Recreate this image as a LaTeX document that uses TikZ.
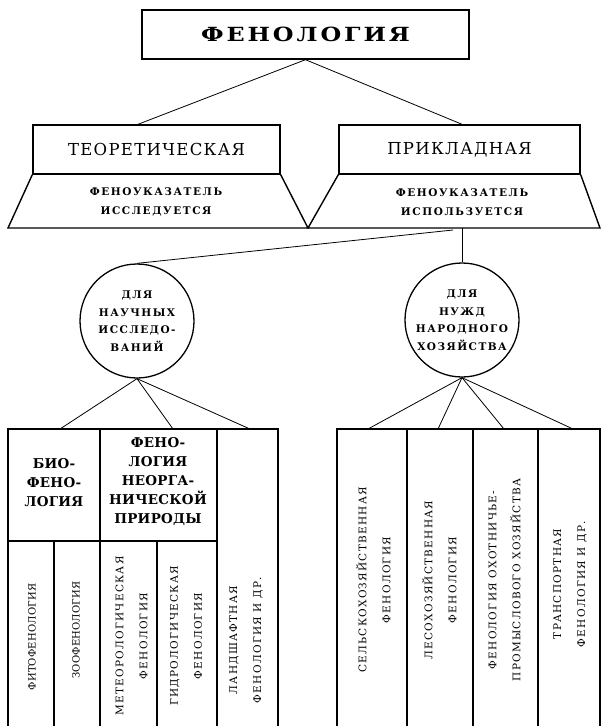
\documentclass[tikz,border=0pt]{standalone}
\usepackage{fontspec}
\setmainfont{DejaVu Serif}
\begin{document}
\begin{tikzpicture}[x=1pt,y=-1pt,
  box/.style={draw, line width=1.4pt, inner sep=0pt, minimum height=49pt},
  conn/.style={line width=0.8pt},
  frame/.style={line width=1.4pt},
  tbl/.style={line width=1.6pt},
  titletext/.style={font=\bfseries\fontsize{19.5}{19.5}\selectfont\addfontfeature{FakeStretch=1.22,LetterSpace=15}},
  midtext/.style={font=\fontsize{16.5}{16.5}\selectfont\addfontfeature{LetterSpace=8}},
  smalltext/.style={align=center, inner sep=0pt, font=\bfseries\fontsize{10.5}{19}\selectfont\addfontfeature{LetterSpace=15}},
  circ/.style={draw, circle, line width=1.3pt, minimum size=114pt, inner sep=0pt, align=center,
    font=\bfseries\fontsize{10.5}{17.5}\selectfont\addfontfeature{LetterSpace=14}},
  headtext/.style={align=center, inner sep=0pt, font=\bfseries\fontsize{13.5}{19}\selectfont\addfontfeature{LetterSpace=2}},
  vtext/.style={rotate=90, align=center, inner sep=0pt, font=\fontsize{10.5}{24}\selectfont\addfontfeature{LetterSpace=12}},
  vtextn/.style={rotate=90, align=center, inner sep=0pt, font=\fontsize{10}{24}\selectfont\addfontfeature{LetterSpace=2}}
]
\useasboundingbox (0,0) rectangle (601,726);

% top level
\node[box, minimum width=327pt, titletext] (top) at (305.5,34.5) {ФЕНОЛОГИЯ};
\node[box, minimum width=247pt, midtext] (lt) at (156.5,149.5) {ТЕОРЕТИЧЕСКАЯ};
\node[box, minimum width=241pt, midtext] (rt) at (459.5,149.5) {ПРИКЛАДНАЯ};

% trapezoids
\coordinate (tbl) at (8,228);
\coordinate (tbm) at (308,228);
\coordinate (tbr) at (600,228);
\draw[frame] (lt.south west) -- (tbl) -- (tbm) -- (lt.south east);
\draw[frame] (rt.south west) -- (tbm) -- (tbr) -- (rt.south east);
\node[smalltext] (lti) at (156,202) {ФЕНОУКАЗАТЕЛЬ\\ИССЛЕДУЕТСЯ};
\node[smalltext] (rti) at (462,202) {ФЕНОУКАЗАТЕЛЬ\\ИСПОЛЬЗУЕТСЯ};

\draw[conn] (top.south) -- ([xshift=-18.5pt]lt.north);
\draw[conn] (top.south) -- ([xshift=2.5pt]rt.north);

% circles
\node[circ] (lc) at (137,321) {ДЛЯ\\НАУЧНЫХ\\ИССЛЕДО-\\ВАНИЙ};
\node[circ] (rc) at (462,320) {ДЛЯ\\НУЖД\\НАРОДНОГО\\ХОЗЯЙСТВА};

\coordinate (rb) at (462,228);
\coordinate (db) at (453,230);
\draw[conn] (rb) -- (rc.north);
\draw[conn] (db) -- (lc.north);

% connectors to tables
\coordinate (l1) at (60,429);
\coordinate (l2) at (173,429);
\coordinate (l3) at (250,429);
\coordinate (r1) at (368,429);
\coordinate (r2) at (438,429);
\coordinate (r3) at (504,429);
\coordinate (r4) at (573,429);
\foreach \p in {l1,l2,l3} \draw[conn] (lc.south) -- (\p);
\foreach \p in {r1,r2,r3,r4} \draw[conn] (rc.south) -- (\p);

% left table
\draw[tbl] (8,726) -- (8,429) -- (278,429) -- (278,726);
\draw[tbl] (100,429) -- (100,726);
\draw[tbl] (217,429) -- (217,726);
\draw[tbl] (8,541) -- (217,541);
\draw[tbl] (54,541) -- (54,726);
\draw[tbl] (157,541) -- (157,726);

% right table
\draw[tbl] (337,726) -- (337,429) -- (600,429) -- (600,726);
\draw[tbl] (407,429) -- (407,726);
\draw[tbl] (473,429) -- (473,726);
\draw[tbl] (538,429) -- (538,726);

% left table texts
\node[headtext] (bio) at (54,483) {БИО-\\ФЕНО-\\ЛОГИЯ};
\node[headtext] (neorg) at (158,482) {ФЕНО-\\ЛОГИЯ\\НЕОРГА-\\НИЧЕСКОЙ\\ПРИРОДЫ};
\node[vtextn] (fito) at (32,637) {ФИТОФЕНОЛОГИЯ};
\node[vtextn] (zoo) at (76,630) {ЗООФЕНОЛОГИЯ};
\node[vtext] (meteo) at (131.5,636) {МЕТЕОРОЛОГИЧЕСКАЯ\\ФЕНОЛОГИЯ};
\node[vtext] (gidro) at (186,636) {ГИДРОЛОГИЧЕСКАЯ\\ФЕНОЛОГИЯ};
\node[vtext] (land) at (246,640) {ЛАНДШАФТНАЯ\\ФЕНОЛОГИЯ И ДР.};

% right table texts
\node[vtext] (selh) at (373.5,580) {СЕЛЬСКОХОЗЯЙСТВЕННАЯ\\ФЕНОЛОГИЯ};
\node[vtext] (lesh) at (439.5,580) {ЛЕСОХОЗЯЙСТВЕННАЯ\\ФЕНОЛОГИЯ};
\node[vtext] (ohot) at (504.5,580) {ФЕНОЛОГИЯ ОХОТНИЧЬЕ-\\ПРОМЫСЛОВОГО ХОЗЯЙСТВА};
\node[vtext] (trans) at (570,584) {ТРАНСПОРТНАЯ\\ФЕНОЛОГИЯ И ДР.};
\end{tikzpicture}
\end{document}
